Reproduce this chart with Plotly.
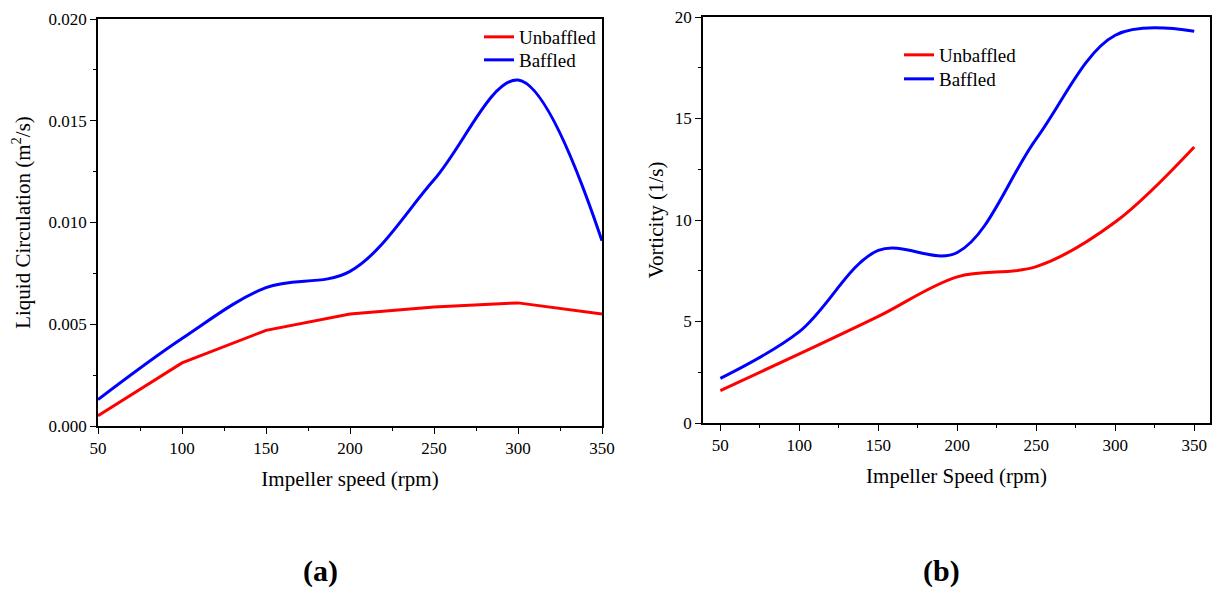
import plotly.graph_objects as go

# ---- data ----
speed = [50, 100, 150, 200, 250, 300, 350]

circ_unbaffled = [0.0005, 0.0031, 0.0047, 0.0055, 0.00585, 0.00605, 0.0055]
circ_baffled = [0.0013, 0.0043, 0.0068, 0.0076, 0.0121, 0.0170, 0.0091]

vort_unbaffled = [1.6, 3.4, 5.25, 7.2, 7.7, 9.9, 13.6]
vort_baffled = [2.2, 4.5, 8.5, 8.4, 14.0, 19.1, 19.3]

x_ticks = [50, 100, 150, 200, 250, 300, 350]
left_y_ticks = [0.0, 0.005, 0.010, 0.015, 0.020]
right_y_ticks = [0, 5, 10, 15, 20]

RED = "#ff0000"
BLUE = "#0000ff"
FONT = "Liberation Serif"

fig = go.Figure()

fig.add_trace(go.Scatter(x=speed, y=circ_unbaffled, mode="lines", name="Unbaffled",
                         line=dict(color=RED, width=3), xaxis="x", yaxis="y", legend="legend"))
fig.add_trace(go.Scatter(x=speed, y=circ_baffled, mode="lines", name="Baffled",
                         line=dict(color=BLUE, width=3, shape="spline", smoothing=1.0),
                         xaxis="x", yaxis="y", legend="legend2"))
fig.add_trace(go.Scatter(x=speed, y=vort_unbaffled, mode="lines", name="Unbaffled",
                         line=dict(color=RED, width=3, shape="spline", smoothing=1.0),
                         xaxis="x2", yaxis="y2", legend="legend3"))
fig.add_trace(go.Scatter(x=speed, y=vort_baffled, mode="lines", name="Baffled",
                         line=dict(color=BLUE, width=3, shape="spline", smoothing=1.0),
                         xaxis="x2", yaxis="y2", legend="legend4"))

W, H = 1214, 589

def px_x(p):
    return p / W

def px_y(p):
    return 1 - p / H

axis_common = dict(
    showline=True, linecolor="black", linewidth=1.5, mirror=True,
    ticks="outside", ticklen=6, tickwidth=1.3, tickcolor="black",
    showgrid=False, zeroline=False, automargin=False,
    tickfont=dict(family=FONT, size=17, color="black"),
)
title_font = dict(family=FONT, size=21, color="black")
legend_font = dict(family=FONT, size=19, color="black")

def legend_at(xpx, ypx):
    return dict(x=px_x(xpx), y=px_y(ypx), xanchor="left", yanchor="top",
                bgcolor="rgba(0,0,0,0)", borderwidth=0, font=legend_font)

fig.update_layout(
    template="none",
    width=W, height=H,
    margin=dict(l=0, r=0, t=0, b=0, pad=0),
    paper_bgcolor="white", plot_bgcolor="white",
    font=dict(family=FONT, color="black"),
    xaxis=dict(domain=[px_x(98), px_x(602)], anchor="y", range=[50, 350],
               tickvals=x_ticks,
               minor=dict(ticks="outside", ticklen=3, dtick=25, tickcolor="black"),
               title=dict(text="Impeller speed (rpm)", font=title_font, standoff=14),
               **axis_common),
    yaxis=dict(domain=[px_y(426), px_y(19)], anchor="x", range=[0, 0.020],
               tickvals=left_y_ticks, tickformat=".3f",
               minor=dict(ticks="outside", ticklen=3, dtick=0.0025, tickcolor="black"),
               title=dict(text="Liquid Circulation (m<sup>2</sup>/s)", font=title_font, standoff=12),
               **axis_common),
    xaxis2=dict(domain=[px_x(703), px_x(1210)], anchor="y2", range=[39, 360],
                tickvals=x_ticks,
                minor=dict(ticks="outside", ticklen=3, dtick=25, tick0=25, tickcolor="black"),
                title=dict(text="Impeller Speed (rpm)", font=title_font, standoff=14),
                **axis_common),
    yaxis2=dict(domain=[px_y(423), px_y(17)], anchor="x2", range=[0, 20],
                tickvals=right_y_ticks,
                minor=dict(ticks="outside", ticklen=3, dtick=2.5, tickcolor="black"),
                title=dict(text="Vorticity (1/s)", font=title_font, standoff=5),
                **axis_common),
    legend=legend_at(479, 18),
    legend2=legend_at(479, 41),
    legend3=legend_at(899, 36),
    legend4=legend_at(899, 60),
    showlegend=True,
)

fig.add_annotation(text="<b>(a)</b>", x=px_x(320), y=px_y(571), xref="paper", yref="paper",
                   xanchor="center", yanchor="middle",
                   showarrow=False, font=dict(family=FONT, size=30, color="black"))
fig.add_annotation(text="<b>(b)</b>", x=px_x(941), y=px_y(571), xref="paper", yref="paper",
                   xanchor="center", yanchor="middle",
                   showarrow=False, font=dict(family=FONT, size=30, color="black"))

fig.write_html("out.html")
